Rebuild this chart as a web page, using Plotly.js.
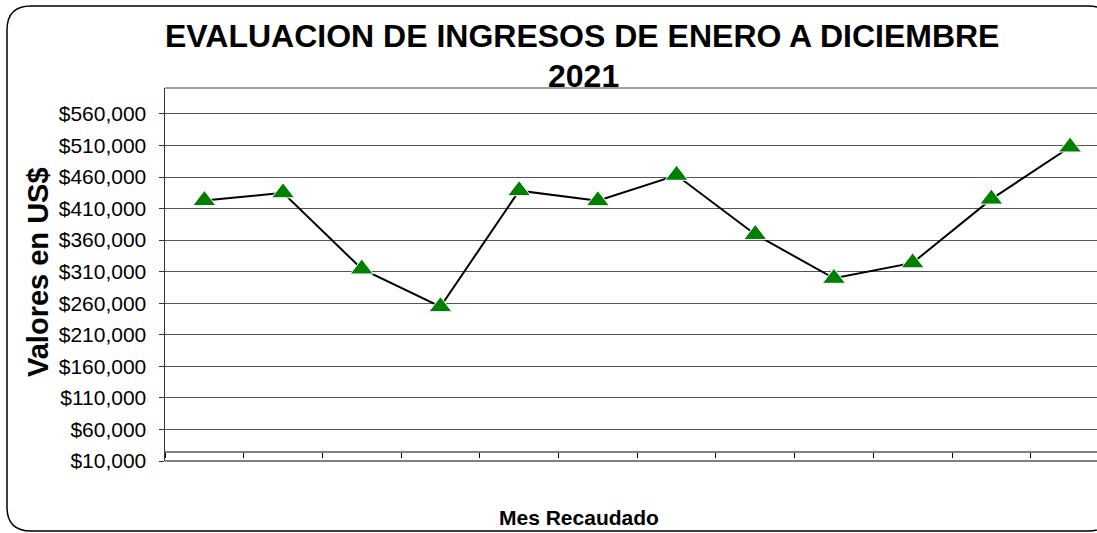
<!DOCTYPE html>
<html>
<head>
<meta charset="utf-8">
<script src="https://cdn.plot.ly/plotly-3.0.1.min.js"></script>
<style>
  html, body { margin: 0; padding: 0; background: #ffffff; overflow: hidden; }
  #chart { width: 1097px; height: 533px; }
</style>
</head>
<body>
<div id="chart"></div>
<script>
// ---- data ----
const meses = ['Enero', 'Febrero', 'Marzo', 'Abril', 'Mayo', 'Junio', 'Julio', 'Agosto', 'Septiembre', 'Octubre', 'Noviembre', 'Diciembre'];
const ingresos = [422800, 435000, 314300, 254500, 438400, 422500, 462800, 369000, 299500, 324000, 425000, 507600];
const tituloLinea1 = 'EVALUACION DE INGRESOS DE ENERO A DICIEMBRE';
const tituloLinea2 = '2021';
const tituloY = 'Valores en US$';
const tituloX = 'Mes Recaudado';
const yMin = 10000;
const yMax = 601100;
const yPaso = 50000;

// ---- layout geometry (pixels) ----
const W = 1097, H = 533;
const L = 165, R = 0, T = 88, B = 72;
const pw = W - L - R, ph = H - T - B;
const px = v => (v - L) / pw;          // pixel x -> paper x
const py = v => (H - B - v) / ph;      // pixel y -> paper y

// rounded outer frame
const fx0 = 7, fy0 = 6, fx1 = 1112, fy1 = 531, rad = 24;
const framePath =
  'M ' + px(fx0 + rad) + ',' + py(fy0) +
  ' L ' + px(fx1 - rad) + ',' + py(fy0) +
  ' Q ' + px(fx1) + ',' + py(fy0) + ' ' + px(fx1) + ',' + py(fy0 + rad) +
  ' L ' + px(fx1) + ',' + py(fy1 - rad) +
  ' Q ' + px(fx1) + ',' + py(fy1) + ' ' + px(fx1 - rad) + ',' + py(fy1) +
  ' L ' + px(fx0 + rad) + ',' + py(fy1) +
  ' Q ' + px(fx0) + ',' + py(fy1) + ' ' + px(fx0) + ',' + py(fy1 - rad) +
  ' L ' + px(fx0) + ',' + py(fy0 + rad) +
  ' Q ' + px(fx0) + ',' + py(fy0) + ' ' + px(fx0 + rad) + ',' + py(fy0) + ' Z';

const trace = {
  type: 'scatter',
  mode: 'lines+markers',
  x: meses,
  y: ingresos,
  line: { color: '#000000', width: 2 },
  marker: { symbol: 'triangle-up', size: 20, color: '#008000', line: { color: '#ffffff', width: 1 } },
  hoverinfo: 'x+y',
  cliponaxis: false
};

const layout = {
  width: W,
  height: H,
  margin: { l: L, r: R, t: T, b: B, pad: 0 },
  paper_bgcolor: 'rgba(0,0,0,0)',
  plot_bgcolor: 'rgba(0,0,0,0)',
  showlegend: false,
  font: { family: 'Liberation Sans, Arial, sans-serif', color: '#000000' },
  xaxis: {
    type: 'category',
    range: [-0.5, -0.5 + pw / 78.7],
    anchor: 'free',
    position: py(451),
    showline: true,
    linecolor: '#808080',
    linewidth: 1.5,
    ticks: 'outside',
    tickson: 'boundaries',
    ticklen: 5,
    tickcolor: '#000000',
    tickwidth: 1,
    showticklabels: false,
    showgrid: false,
    zeroline: false,
    fixedrange: true
  },
  yaxis: {
    range: [yMin, yMax],
    tick0: yMin,
    dtick: yPaso,
    tickprefix: '$',
    tickformat: ',d',
    ticks: 'outside',
    ticklen: 5,
    tickcolor: '#333333',
    ticklabelstandoff: 8,
    tickfont: { family: 'Liberation Sans, Arial, sans-serif', size: 21, color: '#000000' },
    showgrid: true,
    gridcolor: '#555555',
    gridwidth: 1,
    showline: true,
    linecolor: '#333333',
    linewidth: 1.5,
    zeroline: false,
    fixedrange: true
  },
  shapes: [
    { type: 'line', xref: 'paper', yref: 'paper', x0: 0, x1: 1.02, y0: 1, y1: 1, line: { color: '#808080', width: 1.5 }, layer: 'below' },
    { type: 'line', xref: 'paper', yref: 'paper', x0: 0, x1: 1.02, y0: 0, y1: 0, line: { color: '#808080', width: 2 }, layer: 'below' },
    { type: 'path', xref: 'paper', yref: 'paper', path: framePath, line: { color: '#000000', width: 1.5 }, fillcolor: 'rgba(0,0,0,0)', layer: 'below' }
  ],
  annotations: [
    { text: '<b>' + tituloLinea1 + '</b>', xref: 'paper', yref: 'paper', x: px(582), y: py(36), xanchor: 'center', yanchor: 'middle', showarrow: false, font: { size: 32, family: 'Liberation Sans, Arial, sans-serif', color: '#000000' } },
    { text: '<b>' + tituloLinea2 + '</b>', xref: 'paper', yref: 'paper', x: px(583), y: py(76), xanchor: 'center', yanchor: 'middle', showarrow: false, font: { size: 32, family: 'Liberation Sans, Arial, sans-serif', color: '#000000' } },
    { text: '<b>' + tituloY + '</b>', xref: 'paper', yref: 'paper', x: px(38), y: py(272), xanchor: 'center', yanchor: 'middle', textangle: -90, showarrow: false, font: { size: 29, family: 'Liberation Sans, Arial, sans-serif', color: '#000000' } },
    { text: '<b>' + tituloX + '</b>', xref: 'paper', yref: 'paper', x: px(579), y: py(517), xanchor: 'center', yanchor: 'middle', showarrow: false, font: { size: 21, family: 'Liberation Sans, Arial, sans-serif', color: '#000000' } }
  ]
};

Plotly.newPlot('chart', [trace], layout, { displayModeBar: false, staticPlot: true });
</script>
</body>
</html>
